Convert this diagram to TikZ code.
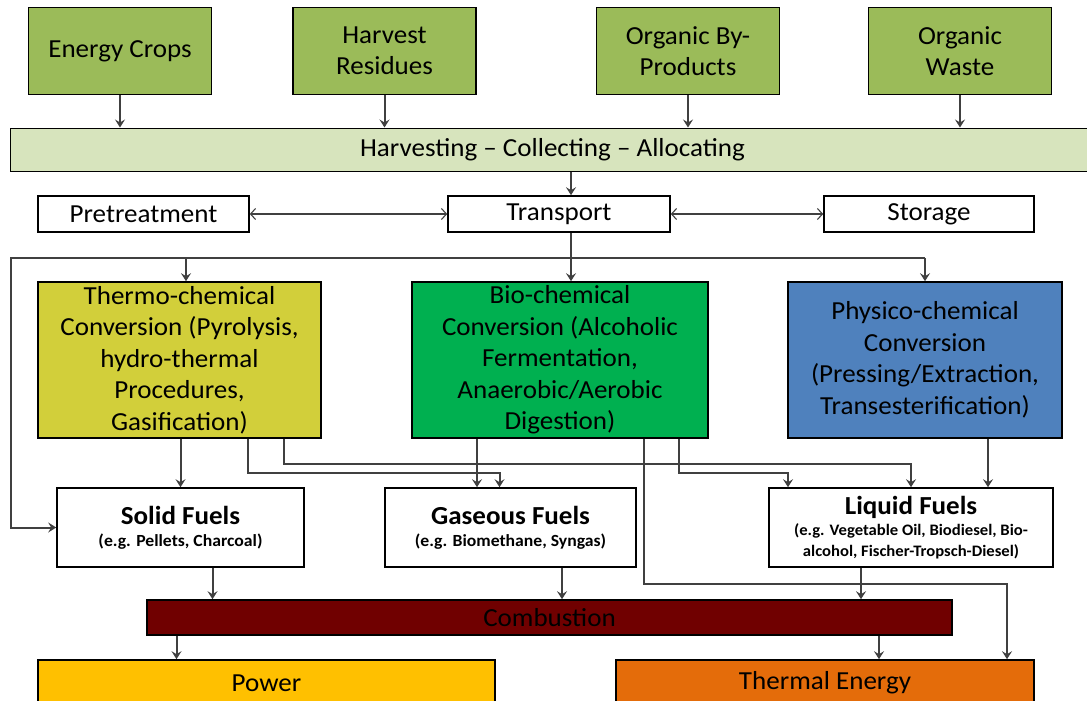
\documentclass[tikz,border=0pt]{standalone}
\usepackage{fontspec}
\setmainfont{Carlito}[FakeStretch=1.04]
\usetikzlibrary{positioning,arrows.meta}
\definecolor{srcgreen}{RGB}{155,187,89}
\definecolor{harvbar}{RGB}{215,228,189}
\definecolor{thermofill}{RGB}{210,207,58}
\definecolor{biofill}{RGB}{0,176,80}
\definecolor{physfill}{RGB}{79,129,189}
\definecolor{combfill}{RGB}{112,0,0}
\definecolor{powerfill}{RGB}{255,192,0}
\definecolor{heatfill}{RGB}{228,108,10}
\definecolor{linkgray}{RGB}{64,64,64}

\begin{document}
\begin{tikzpicture}[x=1pt, y=-1pt,
  font=\fontsize{26}{31.5}\selectfont,
  box/.style={draw, line width=1.6pt, align=center, inner sep=0pt},
  src/.style={box, fill=srcgreen, minimum width=183pt, minimum height=87pt},
  stage/.style={box, fill=white, minimum height=36pt},
  conv/.style={box, minimum height=156pt},
  fuel/.style={box, fill=white, minimum height=79pt, font=\fontsize{17}{22}\selectfont\bfseries},
  link/.style={draw=linkgray, line width=2pt, -{Stealth[length=8pt, width=10pt, inset=3pt]}},
  both/.style={draw=linkgray, line width=1.1pt, {Straight Barb[length=5pt, width=11pt]}-{Straight Barb[length=5pt, width=11pt]}}
]
  \useasboundingbox (0,0) rectangle (1087,701);
  \clip (0,0) rectangle (1087,701);

  \node[src] (crops) at (120,51) {Energy Crops};
  \node[src] (resid) at (384.5,51) {Harvest\\Residues};
  \node[src] (byprod) at (688,51) {Organic By-\\Products};
  \node[src] (waste) at (960,51) {Organic\\Waste};

  \node[box, line width=1pt, fill=harvbar, minimum width=1085pt, minimum height=43pt] (harv) at (552.5,149.5) {Harvesting – Collecting – Allocating};

  \node[stage, minimum width=211pt] (pre) at (143.5,214) {Pretreatment};
  \node[stage, minimum width=222pt] (trans) at (559,214) {Transport};
  \node[stage, minimum width=210pt] (stor) at (929,214) {Storage};

  \node[conv, fill=thermofill, minimum width=283pt] (thermo) at (179.5,360) {Thermo-chemical\\Conversion (Pyrolysis,\\hydro-thermal\\Procedures,\\Gasification)};
  \node[conv, fill=biofill, minimum width=296pt] (bio) at (560,360) {Bio-chemical\\Conversion (Alcoholic\\Fermentation,\\Anaerobic/Aerobic\\Digestion)};
  \node[conv, fill=physfill, minimum width=274pt] (phys) at (925,360) {Physico-chemical\\Conversion\\(Pressing/Extraction,\\Transesterification)};

  \node[fuel, minimum width=247pt] (solid) at (180.5,527.5) {{\fontsize{26}{31.5}\selectfont Solid Fuels}\\(e.g. Pellets, Charcoal)};
  \node[fuel, minimum width=251pt] (gas) at (510.5,527.5) {{\fontsize{26}{31.5}\selectfont Gaseous Fuels}\\(e.g. Biomethane, Syngas)};
  \node[fuel, minimum width=284pt, font=\fontsize{16}{21}\selectfont\bfseries] (liquid) at (911,527.5) {{\fontsize{26}{31.5}\selectfont Liquid Fuels}\\(e.g. Vegetable Oil, Biodiesel, Bio-\\alcohol, Fischer-Tropsch-Diesel)};

  \node[box, fill=combfill, minimum width=805pt, minimum height=35pt] (comb) at (549.5,617.5) {Combustion};

  \node[box, fill=powerfill, minimum width=457pt, minimum height=46pt] (power) at (266.5,683) {Power};
  \node[box, fill=heatfill, minimum width=418pt, minimum height=46pt] (heat) at (825,683) {Thermal Energy};

  \draw[link] (crops) -- (crops |- harv.north);
  \draw[link] (resid) -- (resid |- harv.north);
  \draw[link] (byprod) -- (byprod |- harv.north);
  \draw[link] (waste) -- (waste |- harv.north);
  \draw[link, line width=1.2pt] ([xshift=12pt]trans.north |- harv.south) -- ([xshift=12pt]trans.north);

  \draw[both] (pre) -- (trans);
  \draw[both] (trans) -- (stor);

  \coordinate (rail) at (11,258);
  \draw[link] ([xshift=12pt]trans.south) -- ([xshift=11pt]bio.north);
  \draw[link] (rail -| phys.north) -- (rail) |- (solid.west);
  \draw[link] (rail -| phys.north) -- (phys.north);
  \draw[link] ([xshift=6.5pt]thermo.north |- rail) -- ([xshift=6.5pt]thermo.north);

  \draw[link] (thermo.south -| solid.north) -- (solid.north);
  \draw[link] ([xshift=68pt]thermo.south) -- ++(0,34) -| ([xshift=-11pt]gas.north);
  \draw[link] ([xshift=104pt]thermo.south) -- ++(0,25) -| (liquid.north);
  \draw[link] ([xshift=-83pt]bio.south) -- ([xshift=-83pt]bio.south |- gas.north);
  \draw[link] ([xshift=119pt]bio.south) -- ++(0,34) -| ([xshift=-123pt]liquid.north);
  \draw[link] ([xshift=84pt]bio.south) -- ++(0,145) -| ([xshift=182pt]heat.north);
  \draw[link] ([xshift=63pt]phys.south) -- ([xshift=63pt]phys.south |- liquid.north);

  \draw[link] ([xshift=32pt]solid.south) -- ([xshift=32pt]solid.south |- comb.north);
  \draw[link] ([xshift=51.5pt]gas.south) -- ([xshift=51.5pt]gas.south |- comb.north);
  \draw[link] ([xshift=-50pt]liquid.south) -- ([xshift=-50pt]liquid.south |- comb.north);
  \draw[link] ([xshift=-90pt]power.north |- comb.south) -- ([xshift=-90pt]power.north);
  \draw[link] ([xshift=54pt]heat.north |- comb.south) -- ([xshift=54pt]heat.north);
\end{tikzpicture}
\end{document}
